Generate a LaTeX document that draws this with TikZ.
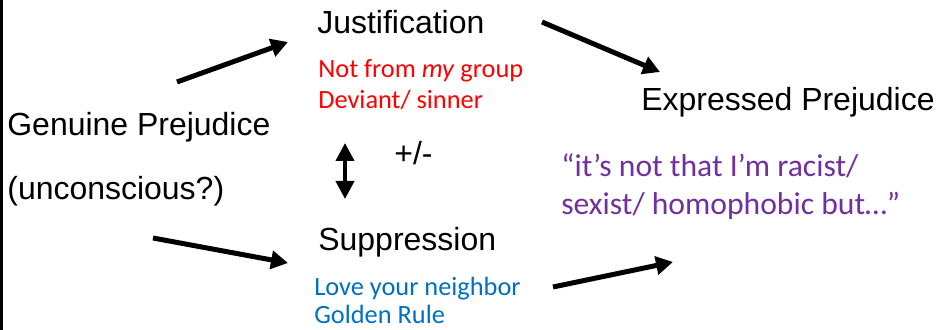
\documentclass[tikz,border=0pt]{standalone}
\usepackage{fontspec}
\setmainfont{Liberation Sans}
\newfontfamily\notefont{Carlito}
\usepackage{tikz}
\usetikzlibrary{arrows.meta}
\definecolor{justred}{RGB}{255,0,0}
\definecolor{suppblue}{RGB}{0,112,192}
\definecolor{exprpurple}{RGB}{112,48,160}

\begin{document}
\begin{tikzpicture}[x=0.02cm, y=-0.02cm,
    label/.style={anchor=base west, inner sep=0pt, font=\fontsize{18.2}{21}\selectfont},
    note/.style={anchor=base west, inner sep=0pt, font=\notefont\fontsize{15}{18}\selectfont},
    quote/.style={anchor=base west, inner sep=0pt, text=exprpurple, font=\notefont\fontsize{18}{22}\selectfont},
    push/.style={line width=0.1cm, -{Triangle[length=0.34cm, width=0.36cm]}},
    swing/.style={line width=0.08cm, {Triangle[length=0.36cm, width=0.36cm]}-{Triangle[length=0.36cm, width=0.36cm]}}]

    % fixed frame, same size as the slide crop
    \useasboundingbox (0,0) rectangle (938,330);
    % left border of the slide
    \draw[line width=0.06cm] (1.5,0) -- (1.5,330);

    % 1. Genuine prejudice (left)
    \node[label] (genuine) at (7,136) {Genuine Prejudice};
    \node[label] (uncon) at (7,200) {(unconscious?)};

    % 2. Justification branch (top)
    \def\cx{317}
    \node[label] (just) at (\cx,34) {Justification};
    \node[note, text=justred] (just1) at (\cx+1,78) {Not from \textit{my} group};
    \node[note, text=justred] (just2) at (\cx+1,109) {Deviant/ sinner};

    % 3. Suppression branch (bottom)
    \node[label] (supp) at (\cx+1,251) {Suppression};
    \node[note, text=suppblue] (supp1) at (\cx-3,296) {Love your neighbor};
    \node[note, text=suppblue] (supp2) at (\cx-3,324) {Golden Rule};

    % 4. Link between the two branches
    \node[label] (sign) at (394,165) {+/-};
    \coordinate (swtop) at (345,143);
    \coordinate (swbot) at (345,199);
    \draw[swing] (swtop) -- (swbot);

    % 5. Expressed prejudice (right)
    \node[label] (expr) at (641,111) {Expressed Prejudice};
    \node[quote] (quote1) at (561,177) {“it’s not that I’m racist/};
    \node[quote] (quote2) at (561,215) {sexist/ homophobic but…”};

    % 6. Arrow ends
    \coordinate (gtop) at (177,82);
    \coordinate (gbot) at (153,238);
    \coordinate (jin) at (288,42);
    \coordinate (sin) at (288,263);
    \coordinate (jout) at (542,22);
    \coordinate (sout) at (553,287);
    \coordinate (etop) at (660,72);
    \coordinate (ebot) at (673,262);

    % 7. Arrows
    \draw[push] (gtop) -- (jin);
    \draw[push] (gbot) -- (sin);
    \draw[push] (jout) -- (etop);
    \draw[push] (sout) -- (ebot);

\end{tikzpicture}
\end{document}
